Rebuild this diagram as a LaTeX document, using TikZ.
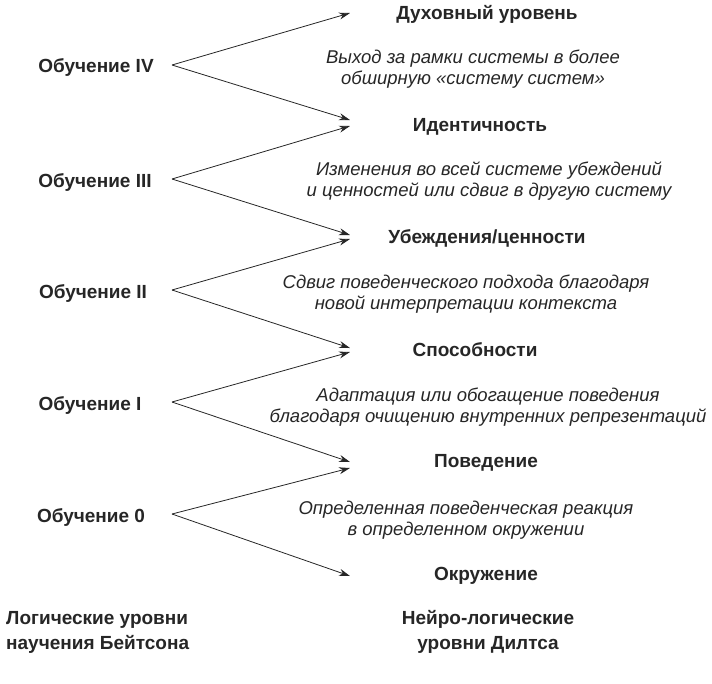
\documentclass[tikz,border=0pt]{standalone}
\usepackage{fontspec}
\setmainfont{Liberation Sans}
\usetikzlibrary{arrows.meta}
\tikzset{
  lab/.style={font=\bfseries\fontsize{19}{22}\selectfont, inner sep=0pt, text=black!85},
  desc/.style={font=\itshape\fontsize{18.5}{21.5}\selectfont, inner sep=0pt, align=center, text=black!85},
  arr/.style={draw=black!85, line width=0.8pt, -{Stealth[length=11pt,width=7pt]}},
}
\begin{document}
\begin{tikzpicture}[x=1pt,y=-1pt]
\useasboundingbox (0,0) rectangle (712,683);
% left labels
\node[lab] (L4) at (96,68) {Обучение IV};
\node[lab] (L3) at (95,182) {Обучение III};
\node[lab] (L2) at (93,293) {Обучение II};
\node[lab] (L1) at (90,405) {Обучение I};
\node[lab] (L0) at (91,517) {Обучение 0};
% origins
\coordinate (O4) at (172,65);
\coordinate (O3) at (172,179);
\coordinate (O2) at (172,290);
\coordinate (O1) at (172,402);
\coordinate (O0) at (172,514);
% right labels
\node[lab] (R5) at (487,14) {Духовный уровень};
\node[lab] (R4) at (480,127) {Идентичность};
\node[lab] (R3) at (487,238) {Убеждения/ценности};
\node[lab] (R2) at (475,350) {Способности};
\node[lab] (R1) at (486,463) {Поведение};
\node[lab] (R0) at (486,576) {Окружение};
% tips
\coordinate (T4u) at (350,13);
\coordinate (T4d) at (350,120);
\coordinate (T3u) at (350,126);
\coordinate (T3d) at (350,235);
\coordinate (T2u) at (350,239);
\coordinate (T2d) at (350,348);
\coordinate (T1u) at (350,352);
\coordinate (T1d) at (350,462);
\coordinate (T0u) at (350,468);
\coordinate (T0d) at (350,576);
% descriptions
\node[desc] (D4) at (473,69) {Выход за рамки системы в более\\обширную «систему систем»};
\node[desc] (D3) at (489,181) {Изменения во всей системе убеждений\\и ценностей или сдвиг в другую систему};
\node[desc] (D2) at (466,294) {Сдвиг поведенческого подхода благодаря\\новой интерпретации контекста};
\node[desc] (D1) at (488,407) {Адаптация или обогащение поведения\\благодаря очищению внутренних репрезентаций};
\node[desc] (D0) at (466,520) {Определенная поведенческая реакция\\в определенном окружении};
% arrows
\draw[arr] (O4) -- (T4u);
\draw[arr] (O4) -- (T4d);
\draw[arr] (O3) -- (T3u);
\draw[arr] (O3) -- (T3d);
\draw[arr] (O2) -- (T2u);
\draw[arr] (O2) -- (T2d);
\draw[arr] (O1) -- (T1u);
\draw[arr] (O1) -- (T1d);
\draw[arr] (O0) -- (T0u);
\draw[arr] (O0) -- (T0d);
% bottom
\node[lab, align=left, anchor=west] (BL) at (6,632) {Логические уровни\\[3pt]научения Бейтсона};
\node[lab, align=center] (BR) at (488,632) {Нейро-логические\\[3pt]уровни Дилтса};
\end{tikzpicture}
\end{document}
